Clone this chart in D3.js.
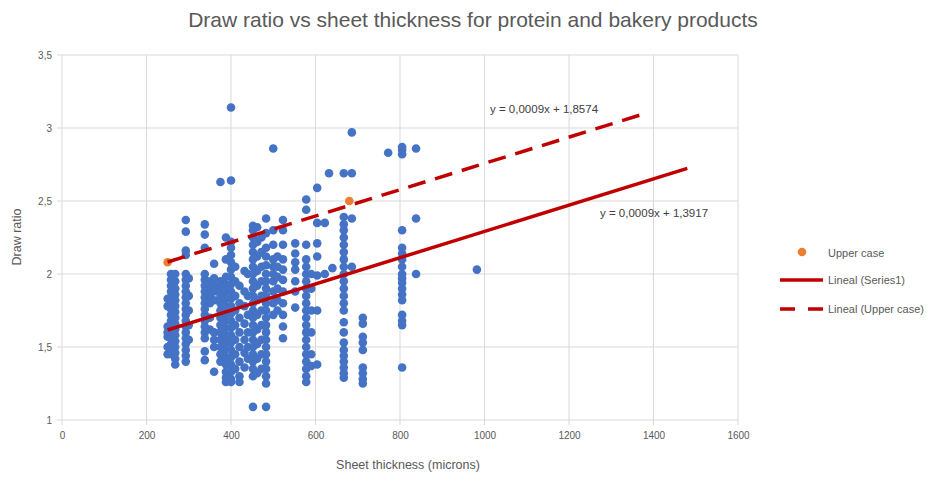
<!DOCTYPE html>
<html>
<head>
<meta charset="utf-8">
<script src="https://cdn.jsdelivr.net/npm/d3@7"></script>
<style>
  html, body { margin: 0; padding: 0; background: #fff; }
  svg { display: block; font-family: "Liberation Sans", Arial, sans-serif; }
</style>
</head>
<body>
<svg id="chart" width="948" height="477"></svg>
<script>
// thickness (microns) of each vertical column of Series1 points
const thicknessColumns = [250, 258, 268, 293, 300, 338, 350, 360, 375, 388, 400, 410, 420, 432, 440, 452, 462, 472, 483, 500, 510, 523, 552, 578, 590, 604, 622, 632, 640, 667, 686, 712, 772, 805, 838, 982];

// draw ratio values in each column (same order as thicknessColumns)
const ratioColumns = [
  [1.83, 1.78, 1.64, 1.60, 1.57, 1.50, 1.45],
  [2.00, 1.96, 1.92, 1.88, 1.84, 1.80, 1.76, 1.72, 1.68, 1.64, 1.60, 1.56, 1.52, 1.48, 1.45],
  [2.00, 1.95, 1.90, 1.86, 1.82, 1.78, 1.74, 1.70, 1.66, 1.62, 1.58, 1.54, 1.50, 1.46, 1.42, 1.38],
  [2.37, 2.29, 2.16, 2.13, 2.00, 1.96, 1.92, 1.88, 1.84, 1.80, 1.76, 1.72, 1.68, 1.64, 1.60, 1.56, 1.52, 1.48, 1.44, 1.40],
  [1.97, 1.85, 1.75, 1.65, 1.55],
  [2.34, 2.27, 2.18, 2.00, 1.96, 1.92, 1.88, 1.84, 1.80, 1.76, 1.72, 1.68, 1.64, 1.60, 1.56, 1.47, 1.41],
  [1.95, 1.90, 1.85, 1.80, 1.70, 1.62],
  [2.07, 1.97, 1.92, 1.88, 1.82, 1.60, 1.55, 1.50, 1.33],
  [2.63, 1.95, 1.90, 1.85, 1.80, 1.75, 1.70, 1.65, 1.60, 1.55, 1.50, 1.45, 1.40],
  [2.25, 2.10, 1.98, 1.93, 1.88, 1.83, 1.78, 1.73, 1.68, 1.63, 1.58, 1.53, 1.48, 1.43, 1.38, 1.33, 1.29, 1.26],
  [3.14, 2.64, 2.22, 2.18, 2.13, 2.08, 2.03, 1.98, 1.93, 1.88, 1.83, 1.78, 1.73, 1.68, 1.63, 1.58, 1.53, 1.48, 1.43, 1.38, 1.33, 1.28, 1.26],
  [2.05, 1.95, 1.85, 1.75, 1.65, 1.55, 1.45, 1.35],
  [1.92, 1.80, 1.70, 1.60, 1.50, 1.40, 1.30, 1.26],
  [2.02, 1.88, 1.78, 1.66, 1.55, 1.46, 1.36],
  [2.00, 1.85, 1.72, 1.60, 1.50, 1.42],
  [2.33, 2.30, 2.25, 2.20, 2.15, 2.10, 2.05, 2.00, 1.95, 1.90, 1.85, 1.80, 1.75, 1.70, 1.65, 1.60, 1.55, 1.50, 1.45, 1.40, 1.35, 1.30, 1.09],
  [2.32, 2.22, 2.12, 2.02, 1.92, 1.82, 1.72, 1.62, 1.52, 1.42, 1.32],
  [2.25, 2.15, 2.05, 1.95, 1.85, 1.75, 1.65, 1.55, 1.45, 1.35],
  [2.38, 2.28, 2.18, 2.12, 2.06, 2.00, 1.95, 1.90, 1.85, 1.80, 1.75, 1.70, 1.65, 1.60, 1.55, 1.50, 1.45, 1.40, 1.35, 1.30, 1.25, 1.09],
  [2.86, 2.30, 2.20, 2.10, 2.05, 2.00, 1.95, 1.88, 1.80, 1.72],
  [2.12, 2.05, 1.98, 1.90, 1.82, 1.75],
  [2.37, 2.30, 2.20, 2.10, 2.03, 1.96, 1.88, 1.80, 1.72, 1.64, 1.56],
  [2.21, 2.14, 2.08, 2.03, 1.95, 1.88, 1.77],
  [2.51, 2.44, 2.20, 2.10, 2.05, 2.00, 1.95, 1.90, 1.85, 1.80, 1.75, 1.70, 1.65, 1.60, 1.55, 1.50, 1.45, 1.40, 1.35, 1.30, 1.26],
  [2.00, 1.90, 1.75, 1.60, 1.45, 1.37],
  [2.59, 2.35, 2.21, 2.12, 1.99, 1.75, 1.38],
  [2.35, 2.00],
  [2.69],
  [2.04],
  [2.69, 2.39, 2.34, 2.30, 2.25, 2.20, 2.15, 2.10, 2.05, 2.00, 1.95, 1.90, 1.85, 1.80, 1.75, 1.67, 1.60, 1.53, 1.48, 1.44, 1.40, 1.36, 1.32, 1.29],
  [2.97, 2.69, 2.38, 2.05],
  [1.70, 1.66, 1.57, 1.53, 1.48, 1.36, 1.32, 1.28, 1.25],
  [2.83],
  [2.87, 2.85, 2.82, 2.30, 2.18, 2.14, 2.10, 2.05, 2.00, 1.97, 1.94, 1.90, 1.86, 1.82, 1.72, 1.68, 1.65, 1.36],
  [2.86, 2.38, 2.00],
  [2.03]
];

// "Upper case" series
const upperThickness = [250, 680];
const upperRatio = [2.08, 2.50];

// linear trendlines (equations shown on chart) and the x range they cover
const trendNames = ["Lineal (Series1)", "Lineal (Upper case)"];
const trendSlopes = [0.0009, 0.0009];
const trendIntercepts = [1.3917, 1.8574];
const trendFrom = [250, 250];
const trendTo = [1480, 1380];
const trendLabels = ["y = 0,0009x + 1,3917", "y = 0,0009x + 1,8574"];

const xTicks = [0, 200, 400, 600, 800, 1000, 1200, 1400, 1600];
const yTicks = [1, 1.5, 2, 2.5, 3, 3.5];

const svg = d3.select("#chart");
const plotLeft = 62, plotRight = 738, plotTop = 55, plotBottom = 420;

const x = d3.scaleLinear().domain([0, 1600]).range([plotLeft, plotRight]);
const y = d3.scaleLinear().domain([1, 3.5]).range([plotBottom, plotTop]);
const fmt = d => String(d).replace(".", ",");

const gridColor = "#d9d9d9";
const textColor = "#595959";

// gridlines (extended a little past the plot as tick marks)
svg.append("g").selectAll("line").data(yTicks).join("line")
  .attr("x1", plotLeft - 5).attr("x2", plotRight)
  .attr("y1", d => y(d)).attr("y2", d => y(d))
  .attr("stroke", gridColor).attr("stroke-width", 1);
svg.append("g").selectAll("line").data(xTicks).join("line")
  .attr("x1", d => x(d)).attr("x2", d => x(d))
  .attr("y1", plotTop).attr("y2", plotBottom + 5)
  .attr("stroke", gridColor).attr("stroke-width", 1);

// axes (labels only, lines are the grid)
const xAxis = svg.append("g").attr("transform", `translate(0,${plotBottom})`)
  .call(d3.axisBottom(x).tickValues(xTicks).tickFormat(fmt).tickSize(0).tickPadding(12));
const yAxis = svg.append("g").attr("transform", `translate(${plotLeft},0)`)
  .call(d3.axisLeft(y).tickValues(yTicks).tickFormat(fmt).tickSize(0).tickPadding(10));
[xAxis, yAxis].forEach(a => {
  a.select(".domain").remove();
  a.selectAll("text").attr("fill", textColor).style("font-size", "10px")
    .style("font-family", "'Liberation Sans', Arial, sans-serif");
});

// points
const pts = [];
thicknessColumns.forEach((t, i) => ratioColumns[i].forEach(r => pts.push([t, r])));

svg.append("g").selectAll("circle").data(pts).join("circle")
  .attr("cx", d => x(d[0])).attr("cy", d => y(d[1])).attr("r", 4.3)
  .attr("fill", "#4472c4");

svg.append("g").selectAll("circle").data(upperThickness).join("circle")
  .attr("cx", d => x(d)).attr("cy", (d, i) => y(upperRatio[i])).attr("r", 4.3)
  .attr("fill", "#ed7d31");

// trendlines
const trendDash = [null, "18,10"];
trendNames.forEach((name, i) => {
  const f = v => trendSlopes[i] * v + trendIntercepts[i];
  svg.append("line")
    .attr("x1", x(trendFrom[i])).attr("y1", y(f(trendFrom[i])))
    .attr("x2", x(trendTo[i])).attr("y2", y(f(trendTo[i])))
    .attr("stroke", "#c00000").attr("stroke-width", 3.5)
    .attr("stroke-dasharray", trendDash[i]);
});

// trendline equations
const eqPos = [[600, 217], [490, 113]];
trendLabels.forEach((t, i) => {
  svg.append("text").attr("x", eqPos[i][0]).attr("y", eqPos[i][1])
    .attr("fill", "#404040").style("font-size", "11.5px").text(t);
});

// title
svg.append("text").attr("x", 473).attr("y", 27).attr("text-anchor", "middle")
  .attr("fill", textColor).style("font-size", "21px")
  .text("Draw ratio vs sheet thickness for protein and bakery products");

// axis titles
svg.append("text").attr("x", 408).attr("y", 469).attr("text-anchor", "middle")
  .attr("fill", textColor).style("font-size", "12.5px").text("Sheet thickness (microns)");
svg.append("text").attr("transform", "translate(21,237) rotate(-90)").attr("text-anchor", "middle")
  .attr("fill", textColor).style("font-size", "12.5px").text("Draw ratio");

// legend
const legend = svg.append("g");
legend.append("circle").attr("cx", 802).attr("cy", 252).attr("r", 4.3).attr("fill", "#ed7d31");
legend.append("line").attr("x1", 780).attr("x2", 823).attr("y1", 280).attr("y2", 280)
  .attr("stroke", "#c00000").attr("stroke-width", 3.5);
legend.append("line").attr("x1", 780).attr("x2", 823).attr("y1", 309).attr("y2", 309)
  .attr("stroke", "#c00000").attr("stroke-width", 3.5).attr("stroke-dasharray", "15,13");
const legendLabels = ["Upper case", trendNames[0], trendNames[1]];
legend.selectAll("text").data(legendLabels).join("text")
  .attr("x", 828).attr("y", (d, i) => [253, 280, 309][i] + 4)
  .attr("fill", textColor).style("font-size", "11px").text(d => d);
</script>
</body>
</html>
